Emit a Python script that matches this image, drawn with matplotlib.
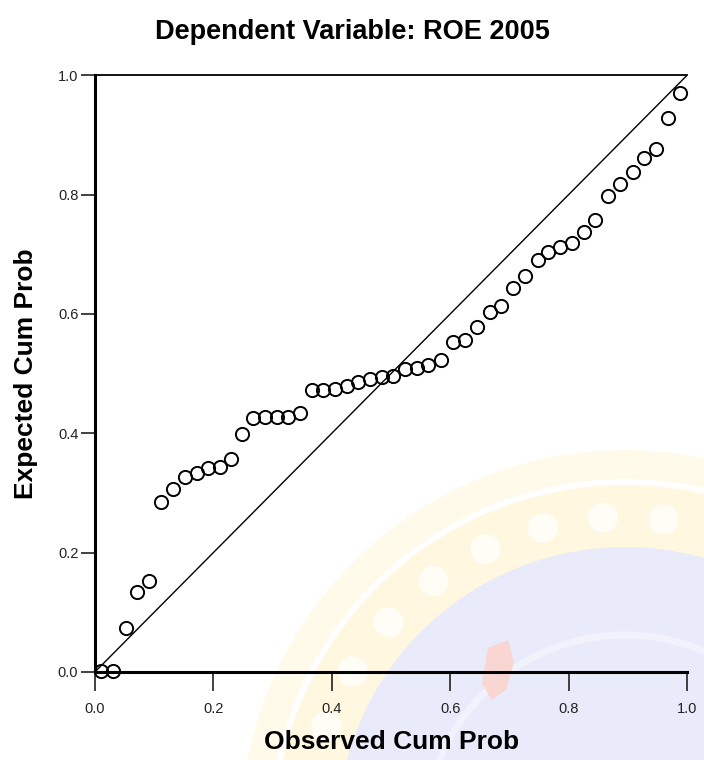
import numpy as np
import matplotlib
matplotlib.use("Agg")
import matplotlib.pyplot as plt
from matplotlib.patches import Circle, Polygon

# normal P-P plot of regression standardized residual
observed = [0.010, 0.030, 0.052, 0.071, 0.091, 0.112, 0.132, 0.152, 0.172, 0.191,
            0.211, 0.230, 0.248, 0.267, 0.287, 0.307, 0.326, 0.346, 0.367, 0.385,
            0.405, 0.426, 0.444, 0.465, 0.485, 0.503, 0.524, 0.544, 0.562, 0.584,
            0.605, 0.625, 0.645, 0.667, 0.686, 0.706, 0.726, 0.748, 0.765, 0.785,
            0.806, 0.826, 0.844, 0.866, 0.887, 0.908, 0.927, 0.947, 0.967, 0.988]
expected = [0.002, 0.002, 0.074, 0.134, 0.152, 0.285, 0.306, 0.326, 0.333, 0.342,
            0.343, 0.357, 0.399, 0.425, 0.427, 0.427, 0.427, 0.434, 0.472, 0.472,
            0.474, 0.479, 0.486, 0.491, 0.494, 0.496, 0.508, 0.509, 0.514, 0.523,
            0.553, 0.557, 0.578, 0.603, 0.613, 0.643, 0.663, 0.690, 0.704, 0.712,
            0.719, 0.737, 0.758, 0.797, 0.818, 0.838, 0.862, 0.877, 0.929, 0.971]
ticks = [0.0, 0.2, 0.4, 0.6, 0.8, 1.0]
tick_labels = ["0.0", "0.2", "0.4", "0.6", "0.8", "1.0"]

plt.rcParams["font.family"] = ["Liberation Sans", "DejaVu Sans"]

fig = plt.figure(figsize=(7.04, 7.6), dpi=100)

# faint seal printed behind the chart (pixel units)
bg = fig.add_axes([0, 0, 1, 1], zorder=-1)
bg.set_xlim(0, 704)
bg.set_ylim(760, 0)
bg.axis("off")
cx, cy = 625, 835
bg.add_patch(Circle((cx, cy), 385, color="#fffaea", lw=0))
bg.add_patch(Circle((cx, cy), 356, color="white", lw=0))
bg.add_patch(Circle((cx, cy), 350, color="#fff7e0", lw=0))
bg.add_patch(Circle((cx, cy), 288, color="#e9ebfa", lw=0))
bg.add_patch(Circle((cx, cy), 200, fill=False, ec="#f1f2fc", lw=5))
# white ornaments around the ring
for ang in np.arange(200, 300, 11):
    a = np.radians(ang)
    bg.add_patch(Circle((cx + 318 * np.cos(a), cy + 318 * np.sin(a)), 15,
                        color="#fffdf6", lw=0))
bg.add_patch(Polygon([[488, 648], [508, 640], [514, 662], [506, 690],
                      [492, 700], [482, 684]], closed=True, color="#fad6d2", lw=0))

ax = fig.add_axes([0.135, 0.116, 0.841, 0.785])
ax.patch.set_alpha(0)

ax.plot([0, 1], [0, 1], color="black", lw=1.0, zorder=2)
ax.plot(observed, expected, linestyle="none", marker="o", markersize=9.5,
        markerfacecolor="none", markeredgecolor="black", markeredgewidth=1.4,
        clip_on=False, zorder=3)

ax.set_xlim(0, 1)
ax.set_ylim(0, 1)
ax.set_xticks(ticks)
ax.set_yticks(ticks)
ax.set_xticklabels(tick_labels)
ax.set_yticklabels(tick_labels)
ax.tick_params(axis="both", direction="out", length=10, width=1.2,
               labelsize=10.5, colors="#222222", pad=2)
ax.tick_params(axis="x", length=14, pad=8)

for side in ["left", "bottom"]:
    ax.spines[side].set_linewidth(2.2)
ax.spines["top"].set_linewidth(1.3)
ax.spines["right"].set_visible(False)

ax.set_xlabel("Observed Cum Prob", fontsize=19, fontweight="bold", labelpad=10)
ax.set_ylabel("Expected Cum Prob", fontsize=19, fontweight="bold", labelpad=14)
fig.text(0.5, 0.958, "Dependent Variable: ROE 2005", ha="center", va="center",
         fontsize=19.5, fontweight="bold")

fig.savefig("out.png", dpi=100)
